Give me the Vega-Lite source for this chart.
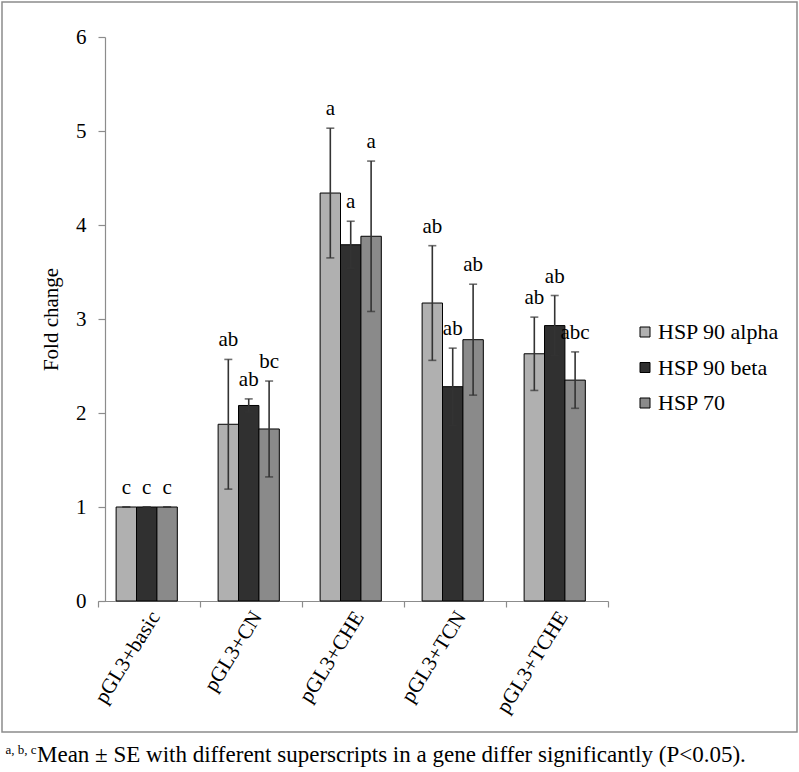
{
  "$schema": "https://vega.github.io/schema/vega-lite/v6.json",
  "width": 795,
  "height": 730,
  "autosize": {"type": "none"},
  "padding": {"left": 2, "top": 2, "right": 2, "bottom": 40},
  "background": "white",
  "config": {
    "view": {"stroke": "#8c8c8c", "strokeWidth": 1.5},
    "font": "Liberation Serif",
    "axis": {"grid": false, "labelFont": "Liberation Serif", "titleFont": "Liberation Serif", "labelColor": "black", "titleColor": "black", "domainColor": "#8c8c8c", "tickColor": "#8c8c8c", "domainWidth": 1.2, "tickWidth": 1.2}
  },
  "title": {
    "text": "Mean ± SE with different superscripts in a gene differ significantly (P<0.05).",
    "orient": "bottom",
    "anchor": "start",
    "frame": "group",
    "offset": -12,
    "dx": 35,
    "font": "Liberation Serif",
    "fontSize": 23,
    "fontWeight": "normal",
    "color": "black"
  },
  "data": {
    "values": [
      {"cat": "pGL3+basic", "gene": "HSP 90 alpha", "mean": 1.0, "lo": 1.0, "hi": 1.0, "sig": "c"},
      {"cat": "pGL3+basic", "gene": "HSP 90 beta", "mean": 1.0, "lo": 1.0, "hi": 1.0, "sig": "c"},
      {"cat": "pGL3+basic", "gene": "HSP 70", "mean": 1.0, "lo": 1.0, "hi": 1.0, "sig": "c"},
      {"cat": "pGL3+CN", "gene": "HSP 90 alpha", "mean": 1.88, "lo": 1.19, "hi": 2.57, "sig": "ab"},
      {"cat": "pGL3+CN", "gene": "HSP 90 beta", "mean": 2.08, "lo": 2.01, "hi": 2.15, "sig": "ab"},
      {"cat": "pGL3+CN", "gene": "HSP 70", "mean": 1.83, "lo": 1.32, "hi": 2.34, "sig": "bc"},
      {"cat": "pGL3+CHE", "gene": "HSP 90 alpha", "mean": 4.34, "lo": 3.65, "hi": 5.03, "sig": "a"},
      {"cat": "pGL3+CHE", "gene": "HSP 90 beta", "mean": 3.79, "lo": 3.54, "hi": 4.04, "sig": "a"},
      {"cat": "pGL3+CHE", "gene": "HSP 70", "mean": 3.88, "lo": 3.08, "hi": 4.68, "sig": "a"},
      {"cat": "pGL3+TCN", "gene": "HSP 90 alpha", "mean": 3.17, "lo": 2.56, "hi": 3.78, "sig": "ab"},
      {"cat": "pGL3+TCN", "gene": "HSP 90 beta", "mean": 2.28, "lo": 1.87, "hi": 2.69, "sig": "ab"},
      {"cat": "pGL3+TCN", "gene": "HSP 70", "mean": 2.78, "lo": 2.19, "hi": 3.37, "sig": "ab"},
      {"cat": "pGL3+TCHE", "gene": "HSP 90 alpha", "mean": 2.63, "lo": 2.24, "hi": 3.02, "sig": "ab"},
      {"cat": "pGL3+TCHE", "gene": "HSP 90 beta", "mean": 2.93, "lo": 2.61, "hi": 3.25, "sig": "ab"},
      {"cat": "pGL3+TCHE", "gene": "HSP 70", "mean": 2.35, "lo": 2.05, "hi": 2.65, "sig": "abc"}
    ]
  },
  "encoding": {
    "x": {
      "field": "cat",
      "type": "nominal",
      "scale": {"domain": ["pGL3+basic", "pGL3+CN", "pGL3+CHE", "pGL3+TCN", "pGL3+TCHE"], "range": [96, 606], "paddingInner": 0, "paddingOuter": 0},
      "axis": {
        "orient": "bottom",
        "offset": -131,
        "title": "a, b, c",
        "titleFontSize": 13,
        "titleFontWeight": "normal",
        "titleX": 3,
        "titleY": 152,
        "titleAlign": "left",
        "titleAngle": 0,
        "titleBaseline": "alphabetic",
        "labelAngle": -58,
        "labelFontSize": 21,
        "labelPadding": 6,
        "labelOffset": 6,
        "tickBand": "extent",
        "tickSize": 6
      }
    },
    "xOffset": {
      "field": "gene",
      "type": "nominal",
      "scale": {"domain": ["HSP 90 alpha", "HSP 90 beta", "HSP 70"], "paddingInner": 0, "paddingOuter": 1.184, "align": 0.444}
    }
  },
  "layer": [
    {
      "mark": {"type": "bar", "stroke": "black", "strokeWidth": 1},
      "encoding": {
        "y": {
          "field": "mean",
          "type": "quantitative",
          "scale": {"domain": [0, 6], "range": [599, 35], "nice": false, "zero": true},
          "axis": {
            "orient": "left",
            "offset": -103,
            "values": [0, 1, 2, 3, 4, 5, 6],
            "format": "d",
            "title": "Fold change",
            "titleFontSize": 21,
            "titleFontWeight": "normal",
            "titlePadding": 14,
            "labelFontSize": 21,
            "labelPadding": 12,
            "tickSize": 7
          }
        },
        "color": {
          "field": "gene",
          "type": "nominal",
          "scale": {"domain": ["HSP 90 alpha", "HSP 90 beta", "HSP 70"], "range": ["#b0b0b0", "#303030", "#8a8a8a"]},
          "legend": {
            "title": null,
            "orient": "none",
            "legendX": 632,
            "legendY": 319,
            "padding": 0,
            "symbolType": "square",
            "symbolSize": 100,
            "symbolStrokeColor": "black",
            "symbolStrokeWidth": 1,
            "labelFont": "Liberation Serif",
            "labelFontSize": 22,
            "labelColor": "black",
            "labelOffset": 2,
            "rowPadding": 13.5
          }
        }
      }
    },
    {
      "mark": {"type": "rule", "color": "#333333", "strokeWidth": 1.6},
      "encoding": {
        "y": {"field": "lo", "type": "quantitative"},
        "y2": {"field": "hi"}
      }
    },
    {
      "mark": {"type": "tick", "orient": "horizontal", "color": "#333333", "size": 8, "thickness": 1.6},
      "encoding": {"y": {"field": "lo", "type": "quantitative"}}
    },
    {
      "mark": {"type": "tick", "orient": "horizontal", "color": "#333333", "size": 8, "thickness": 1.6},
      "encoding": {"y": {"field": "hi", "type": "quantitative"}}
    },
    {
      "mark": {"type": "text", "font": "Liberation Serif", "fontSize": 21, "color": "black", "baseline": "alphabetic", "dy": -13},
      "encoding": {
        "y": {"field": "hi", "type": "quantitative"},
        "text": {"field": "sig", "type": "nominal"}
      }
    }
  ]
}
